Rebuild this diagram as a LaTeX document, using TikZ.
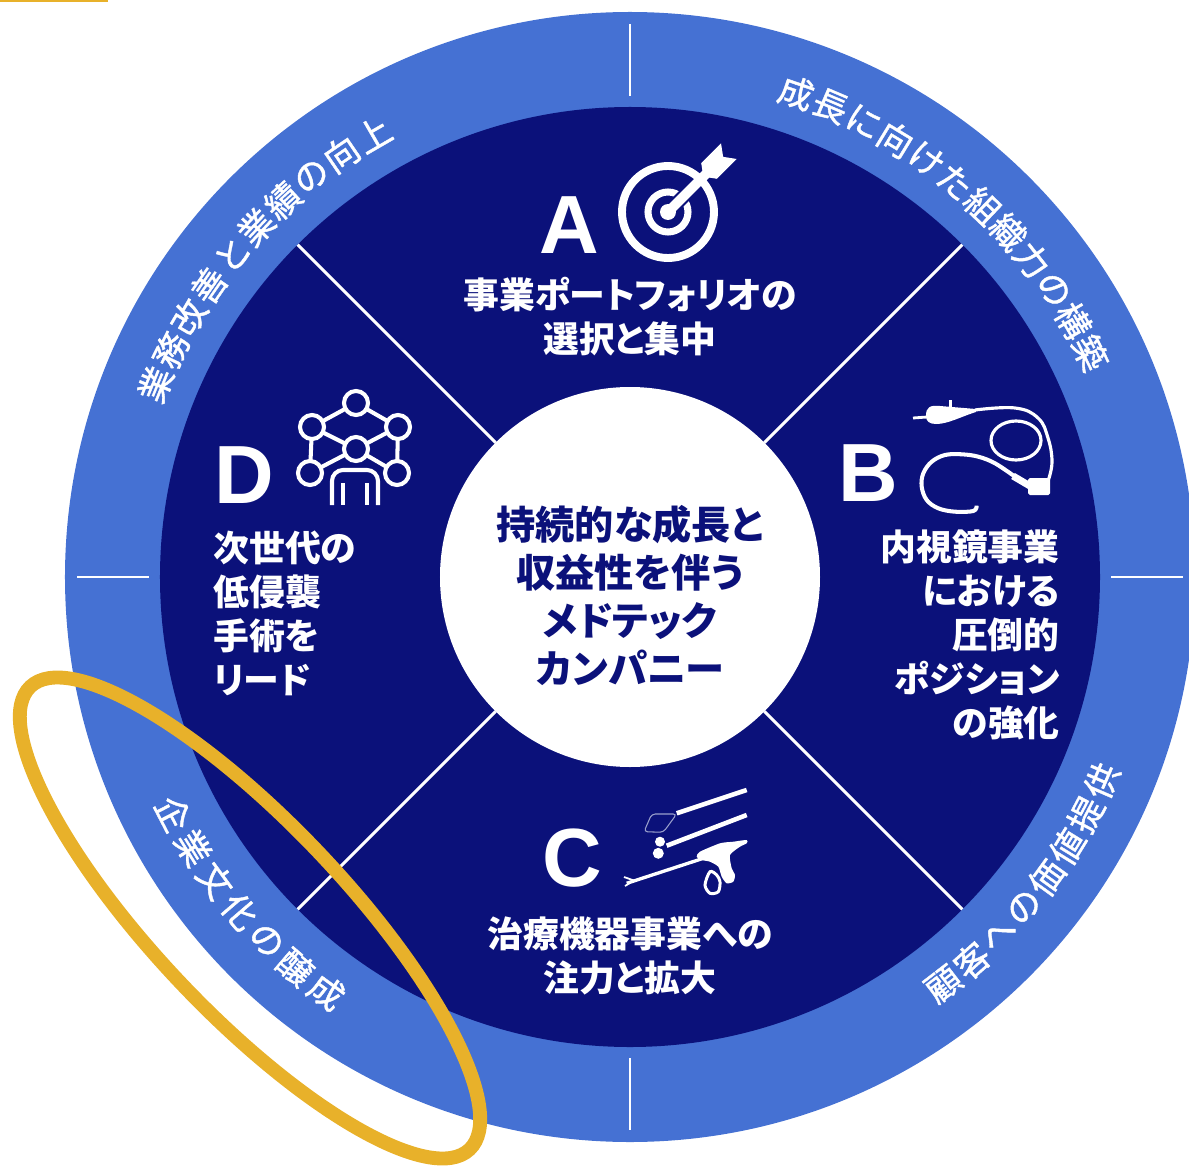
\documentclass[tikz,border=0pt]{standalone}
\usepackage{fontspec}
\newfontfamily\jp{Noto Sans CJK JP}[RawFeature=+palt]
\newfontfamily\jpmid{Noto Sans CJK JP}[RawFeature=+palt, FakeBold=1.2]
\newfontfamily\lat{Liberation Sans}
\definecolor{ringblue}{HTML}{4571D3}
\definecolor{navy}{HTML}{0B117A}
\definecolor{gold}{HTML}{E8B12A}
\definecolor{snare}{HTML}{9AA0CC}

\tikzset{
  ringtxt/.style={text=white, inner sep=0pt, font=\jpmid\fontsize{19.8}{20}\selectfont},
  quadtxt/.style={text=white, inner sep=0pt, font=\jp\bfseries\fontsize{20.4}{25}\selectfont},
  hubtxt/.style={text=navy, inner sep=0pt, align=center, font=\jp\bfseries\fontsize{22.3}{27.5}\selectfont},
  letter/.style={text=white, inner sep=0pt, font=\lat\bfseries\fontsize{47}{47}\selectfont},
  divider/.style={white, line width=1.7pt},
  tick/.style={white, line width=1.4pt},
  icon/.style={white, line width=2.3pt},
}

\begin{document}
\begin{tikzpicture}[x=0.02cm, y=0.02cm]
\useasboundingbox (-630,-593) rectangle (559,577);

% rings and hub
\fill[ringblue] (0,0) circle (565);
\fill[navy] (0,0) circle (470);
\foreach \a in {45,135,225,315}
  \draw[divider] (\a:190) -- (\a:470);
\foreach \a in {0,90,180,270}
  \draw[tick] (\a:481) -- (\a:553);
\fill[white] (0,0) circle (190);
\node[hubtxt] (hub) at (0,-18.5) {持続的な成長と\\収益性を伴う\\メドテック\\カンパニー};

% texts round the ring
\foreach \c [count=\i, evaluate=\i as \ang using {139+(5.5-\i)*4.2}] in {業,務,改,善,と,業,績,の,向,上}
  \node[ringtxt, rotate=\ang-90] (tl-\i) at (\ang:512) {\c};
\foreach \c [count=\i, evaluate=\i as \ang using {48.5+(6.5-\i)*4.1}] in {成,長,に,向,け,た,組,織,力,の,構,築}
  \node[ringtxt, rotate=\ang-90] (tr-\i) at (\ang:512) {\c};
\foreach \c [count=\i, evaluate=\i as \ang using {-37.9+(\i-4.5)*4.15}] in {顧,客,へ,の,価,値,提,供}
  \node[ringtxt, rotate=\ang+90] (br-\i) at (\ang:514) {\c};
\foreach \c [count=\i, evaluate=\i as \ang using {220.6+(\i-4)*4.4}] in {企,業,文,化,の,醸,成}
  \node[ringtxt, rotate=\ang+90] (bl-\i) at (\ang:514) {\c};

% quadrants
\node[letter] (A) at (-61,352) {A};
\node[quadtxt, align=center] (Atxt) at (0,260.5) {事業ポートフォリオの\\選択と集中};
\node[letter] (B) at (238,104) {B};
\node[quadtxt, align=right, anchor=east] (Btxt) at (430,-58) {内視鏡事業\\における\\圧倒的\\ポジション\\の強化};
\node[letter] (C) at (-58,-281) {C};
\node[quadtxt, align=center] (Ctxt) at (0,-379) {治療機器事業への\\注力と拡大};
\node[letter] (D) at (-386,102) {D};
\node[quadtxt, align=left, anchor=west] (Dtxt) at (-417,-36.5) {次世代の\\低侵襲\\手術を\\リード};

% target
\begin{scope}[shift={(38,365)}]
  \draw[white, line width=4.5pt] (0,0) circle (46);
  \draw[white, line width=4pt] (0,0) circle (20);
  \fill[white] (0,0) circle (8);
  \begin{scope}[rotate=45]
    \draw[navy, line width=8pt] (12,0) -- (40,0);
    \draw[white, line width=5.5pt] (0,0) -- (56,0);
    \fill[white] (50,0) -- (58,11) -- (86,11) -- (78,0) -- (86,-11) -- (58,-11) -- cycle;
  \end{scope}
\end{scope}

% endoscope
\draw[white, line width=1.6pt] (283,159) -- (297,160);
\fill[white] (296,161) .. controls (296,170) and (300,172) .. (310,171)
  -- (346,168) -- (346,165) .. controls (330,160) and (318,153) .. (306,153)
  .. controls (299,153) and (296,156) .. (296,161) -- cycle;
\fill[white] (319,169) rectangle (322,177);
\draw[white, line width=1.8pt] plot[smooth, tension=0.7] coordinates
  {(345,167) (385,169) (408,159) (418,139) (422,115) (418,96)};
\draw[white, line width=1.8pt] (386,136.5) ellipse (25 and 19.5);
\draw[white, line width=2.3pt] plot[smooth, tension=0.6] coordinates
  {(385,100.3) (365,113.7) (348.3,120.3) (331.7,122.7) (315,122) (301.7,115.3)
   (293.3,103.7) (291.7,90.3) (296.7,77) (308.3,68.7) (325,65.3) (343.3,66) (346.7,71.3)};
\draw[white, line width=4pt] (383,101) -- (400,91);
\fill[white, rounded corners=1pt] (398,99) rectangle (420,82);

% instruments
\draw[white, line width=2.6pt] (46.7,-236.3) -- (116.7,-213);
\draw[snare, line width=0.6pt, rounded corners=2pt]
  (46.7,-237) -- (21.7,-237) -- (14,-254.7) -- (33.3,-255.3) -- cycle;
\draw[white, line width=2.6pt] (36.7,-268.7) -- (116.7,-238);
\fill[white] (30,-264.7) circle (5);
\fill[white] (28.3,-276.3) circle (5.5);
\draw[white, line width=1.9pt] (-3.3,-306.3) -- (73.3,-281.3);
\draw[white, line width=1pt] (4,-303.5) -- (-6,-300) (4,-303.5) -- (-5,-309);
\fill[white] plot[smooth cycle, tension=0.4] coordinates
  {(70,-274.7) (90,-266.3) (103.3,-264.7) (116.7,-263) (116.7,-266.3) (110,-269.7)
   (100,-278) (101.7,-291.3) (105,-298) (103.3,-304.7) (96.7,-306.3) (91.7,-299.7)
   (88.3,-289.7) (80,-284.7) (71.7,-283) (66.7,-279.7)};
\draw[white, line width=1.7pt] plot[smooth cycle] coordinates
  {(80,-294.7) (75,-308) (80,-316.3) (88.3,-314.7) (90,-304.7) (86.7,-298)};

% molecule and person
\coordinate (m1) at (-274,174);
\coordinate (m2) at (-318,150);
\coordinate (m3) at (-232,150);
\coordinate (m4) at (-274,128);
\coordinate (m5) at (-320,104);
\coordinate (m6) at (-233,104);
\draw[icon] (m1) -- (m2) -- (m5) (m1) -- (m3) -- (m6)
  (m2) -- (m4) -- (m3) (m5) -- (m4) -- (m6);
\foreach \m in {m1,m2,m3,m4,m5,m6}
  \draw[icon, fill=navy] (\m) circle (12);
\draw[icon, fill=navy, rounded corners=0.22cm] (-298,72) |- (-252,107) -- (-252,72);
\draw[icon] (-287,94) -- (-287,72) (-263,94) -- (-263,72);

% highlight
\fill[gold] (-630,577) rectangle (-522,574.5);
\draw[gold, line width=7.9pt, rotate around={-46.5:(-380,-341)}] (-380,-341) ellipse (319 and 95);
\end{tikzpicture}
\end{document}
